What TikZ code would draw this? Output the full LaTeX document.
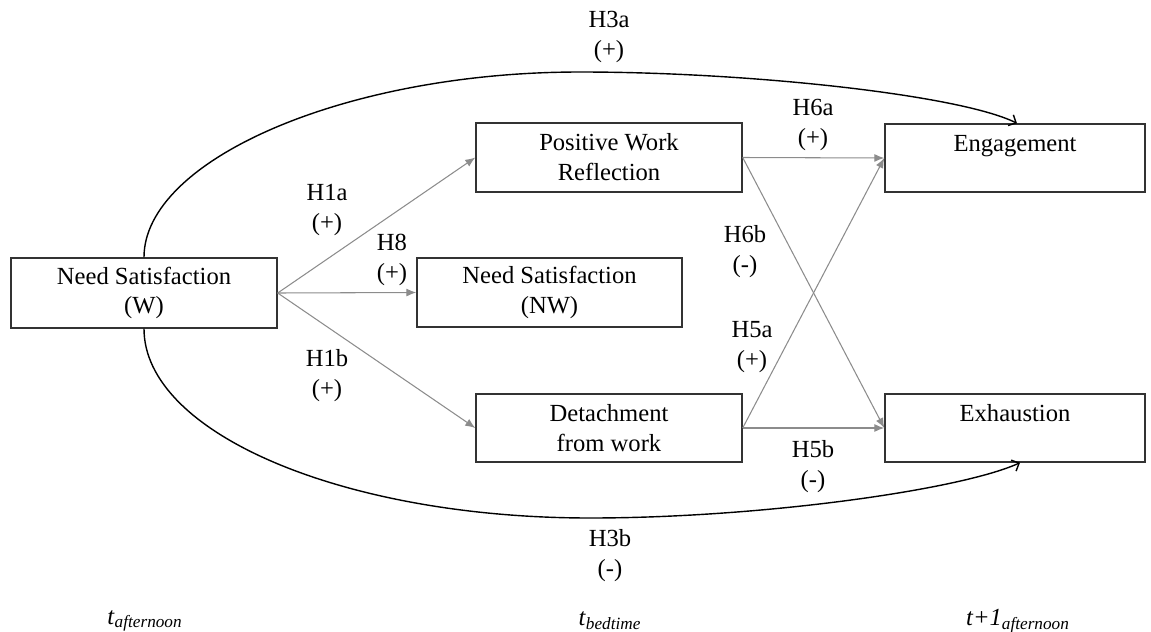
\documentclass[tikz,border=0pt]{standalone}
\usepackage{fontspec}
\setmainfont{Liberation Serif}
\usetikzlibrary{arrows.meta}
\begin{document}
\begin{tikzpicture}[>={Latex[length=2mm,width=1.6mm]},
	box/.style={draw=black!80,line width=0.8pt,minimum width=5.32cm,minimum height=1.38cm,align=center,font=\fontsize{14}{17}\selectfont},
	hyp/.style={align=center,font=\fontsize{14}{17}\selectfont},
	path/.style={draw=black!45,line width=0.6pt,->},
	arc/.style={draw=black,line width=0.8pt,-{Straight Barb[length=1.2mm,width=2.4mm]}},
	tlab/.style={font=\fontsize{14}{17}\selectfont}]
	\useasboundingbox (0,0) rectangle (23.02,-12.64);
	\node[box,minimum height=1.40cm] (nsw) at (2.88,-5.86) {Need Satisfaction\\(W)};
	\node[box] (pwr) at (12.18,-3.15) {Positive Work\\Reflection};
	\node[box,minimum width=5.30cm] (nsnw) at (10.99,-5.85) {Need Satisfaction\\(NW)};
	\node[box,minimum height=1.36cm] (det) at (12.18,-8.56) {Detachment\\from work};
	\node[box,minimum width=5.2cm,minimum height=1.36cm] (eng) at (20.30,-3.16) {Engagement\\\mbox{}};
	\node[box,minimum width=5.2cm,minimum height=1.36cm] (exh) at (20.30,-8.56) {Exhaustion\\\mbox{}};
	\draw[path] (nsw.east)--(pwr.west);
	\draw[path] (nsw.east)--(nsnw.west);
	\draw[path] (nsw.east)--(det.west);
	\draw[path] (pwr.east)--(eng.west);
	\draw[path] (pwr.east)--(exh.west);
	\draw[path] (det.east)--(eng.west);
	\draw[path] (det.east)--(exh.west);
	\coordinate (top) at (11.6,-1.44);
	\coordinate (bot) at (11.8,-10.36);
	\draw[arc] (nsw.north) .. controls (2.88,-3.2) and (6.9,-1.44) .. (top)
		.. controls (15.0,-1.44) and (19.2,-1.9) .. ([xshift=0.04cm]eng.north);
	\draw[arc] (nsw.south) .. controls (2.88,-8.66) and (6.86,-10.36) .. (bot)
		.. controls (15.2,-10.36) and (19.2,-9.8) .. ([xshift=0.1cm]exh.south);
	\node[hyp] (h3a) at (12.18,-0.74) {H3a\\(+)};
	\node[hyp] (h1a) at (6.54,-4.20) {H1a\\(+)};
	\node[hyp] (h8) at (7.84,-5.20) {H8\\(+)};
	\node[hyp] (h1b) at (6.54,-7.52) {H1b\\(+)};
	\node[hyp] (h6a) at (16.26,-2.50) {H6a\\(+)};
	\node[hyp] (h6b) at (14.90,-5.04) {H6b\\(-)};
	\node[hyp] (h5a) at (15.04,-6.94) {H5a\\(+)};
	\node[hyp] (h5b) at (16.26,-9.34) {H5b\\(-)};
	\node[hyp] (h3b) at (12.20,-11.12) {H3b\\(-)};
	\node[tlab] (t1) at (2.90,-12.42) {\textit{t}\textsubscript{\textit{afternoon}}};
	\node[tlab] (t2) at (12.20,-12.42) {\textit{t}\textsubscript{\textit{bedtime}}};
	\node[tlab] (t3) at (20.36,-12.42) {\textit{t+1}\textsubscript{\textit{afternoon}}};
\end{tikzpicture}
\end{document}
